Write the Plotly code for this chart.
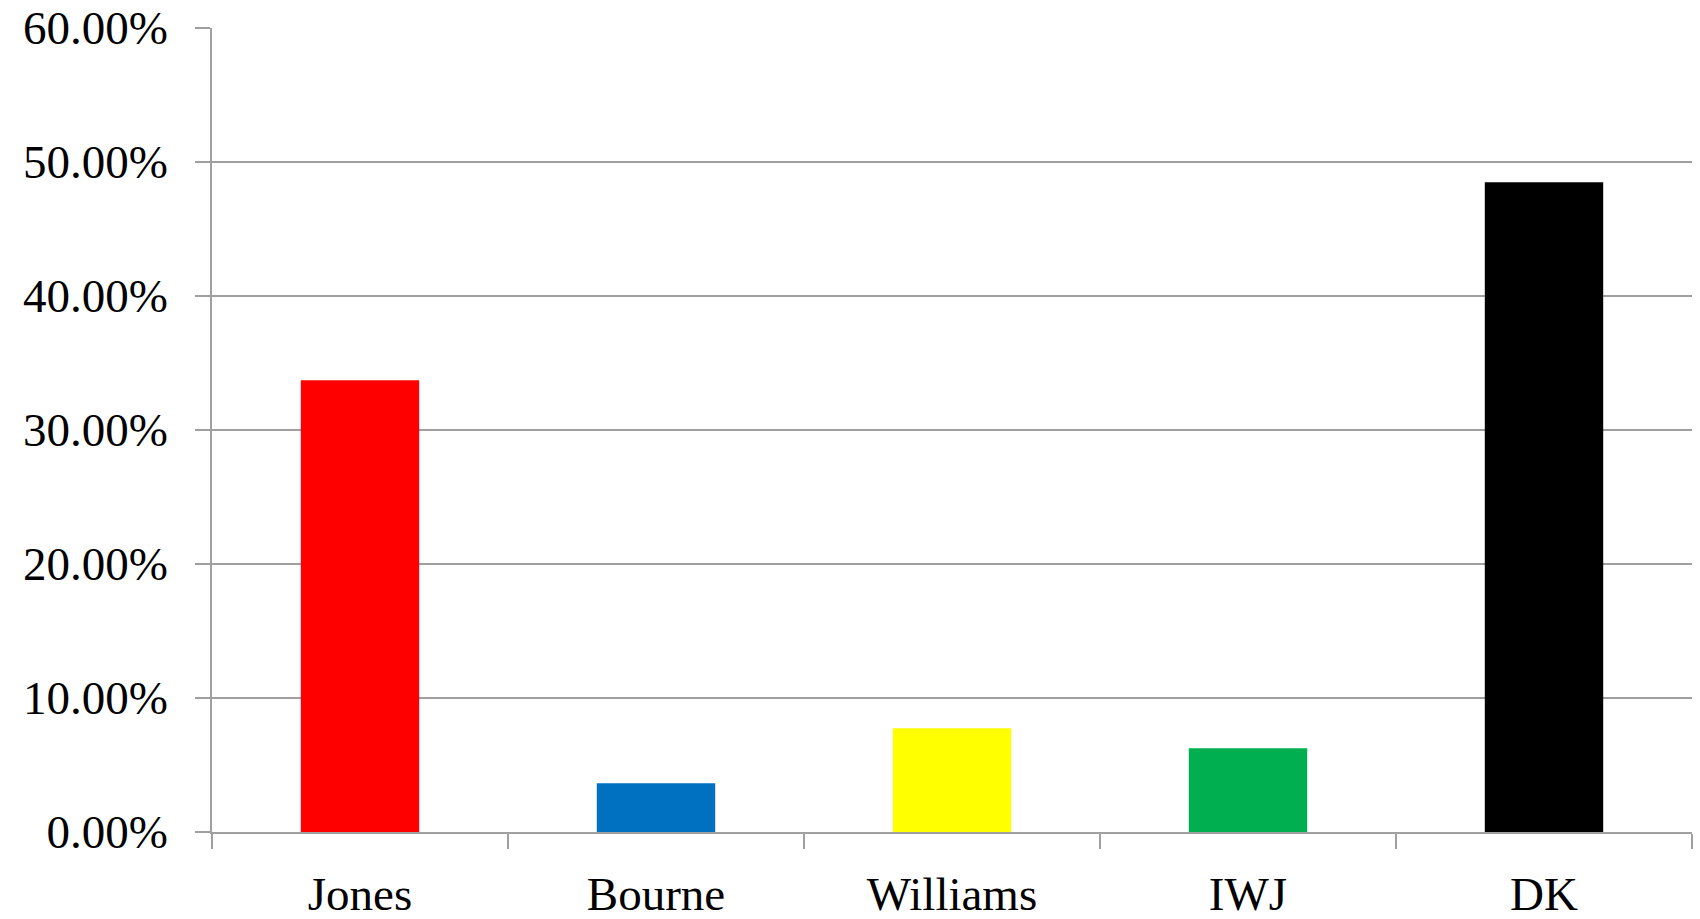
import plotly.graph_objects as go

candidates = ["Jones", "Bourne", "Williams", "IWJ", "DK"]
shares = [0.3371, 0.0363, 0.0774, 0.0625, 0.4849]
bar_colors = ["#ff0000", "#0070c0", "#ffff00", "#00b050", "#000000"]
y_ticks = [0, 0.1, 0.2, 0.3, 0.4, 0.5, 0.6]

grid_color = "#a0a0a0"
font_family = "Liberation Serif, DejaVu Serif, serif"

fig = go.Figure(
    go.Bar(
        x=candidates,
        y=shares,
        marker=dict(color=bar_colors, line=dict(width=0)),
        width=0.4,
        hoverinfo="x+y",
    )
)

fig.update_layout(
    width=1700,
    height=919,
    margin=dict(l=212, r=8, t=28, b=87),
    paper_bgcolor="white",
    plot_bgcolor="white",
    showlegend=False,
    font=dict(family=font_family, size=47, color="#000000"),
)

fig.update_yaxes(
    range=[0, 0.6],
    tickvals=y_ticks,
    tickformat=".2%",
    showgrid=True,
    gridcolor=grid_color,
    gridwidth=1.5,
    zeroline=False,
    showline=True,
    linecolor=grid_color,
    linewidth=1.5,
    ticks="outside",
    ticklen=15,
    tickwidth=1.5,
    tickcolor=grid_color,
    ticklabelstandoff=18,
    automargin=False,
)

fig.update_xaxes(
    showgrid=False,
    showline=True,
    linecolor=grid_color,
    linewidth=1.5,
    ticks="outside",
    tickson="boundaries",
    ticklen=15,
    tickwidth=1.5,
    tickcolor=grid_color,
    ticklabelstandoff=20,
    automargin=False,
)

fig.write_html("out.html")
